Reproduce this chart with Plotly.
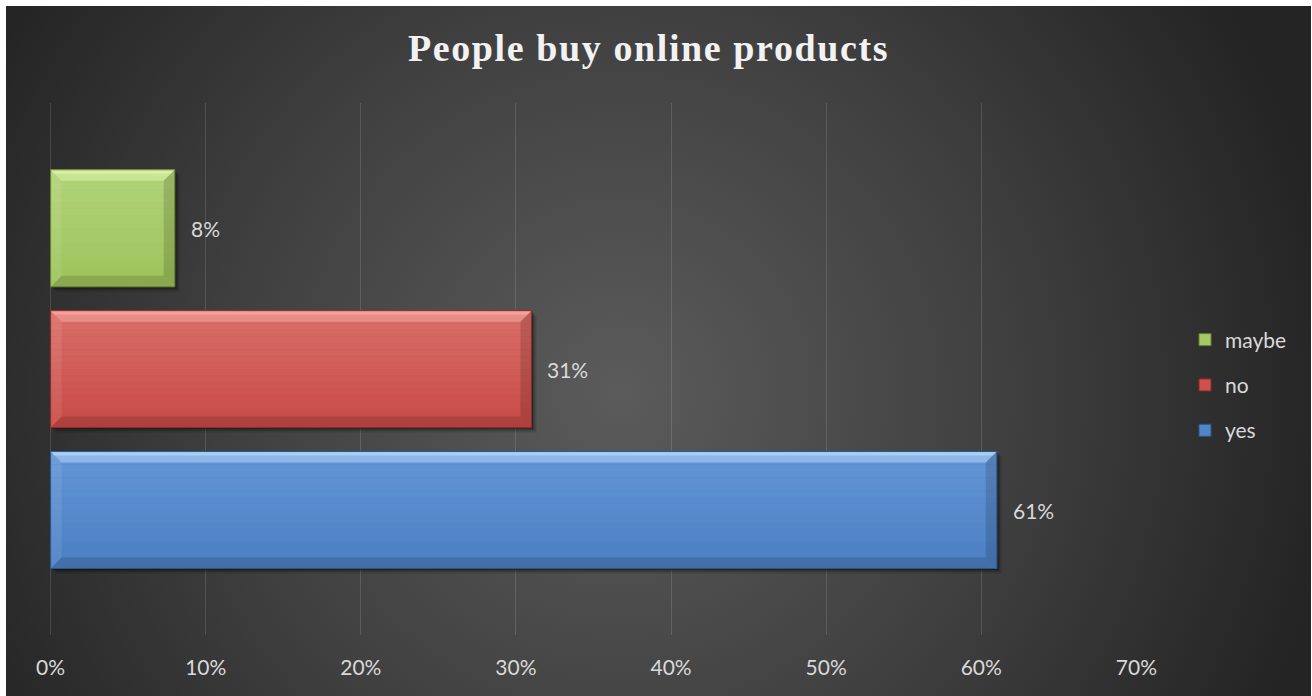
import base64
import plotly.graph_objects as go

# ---- data -------------------------------------------------------------
categories = ["yes", "no", "maybe"]
values = [61, 31, 8]
tick_values = [0, 10, 20, 30, 40, 50, 60, 70]
tick_labels = ["0%", "10%", "20%", "30%", "40%", "50%", "60%", "70%"]
title_text = "People buy online products"

# ---- styling ----------------------------------------------------------
W, H = 1312, 696
M_L, M_R, M_T, M_B = 50, 175, 103, 61
X_RANGE = [-0.04, 70.04]
Y_RANGE = [-0.887, 2.889]
BAR_WIDTH = 0.83

styles = {
    "yes":   dict(body_top="#6496d6", body_bot="#4a7fc2", hi="#b4d6fa",
                  edge="#2d5488", legend="#4f86c8"),
    "no":    dict(body_top="#d96f6a", body_bot="#c84a46", hi="#f6aaa4",
                  edge="#8a2b28", legend="#cf514d"),
    "maybe": dict(body_top="#b2d47a", body_bot="#9dc25a", hi="#ddf4ab",
                  edge="#62802f", legend="#a5c965"),
}

TEXT_GREY = "#d9d9d9"
GRID = "rgba(255,255,255,0.13)"
LABEL_FONT = dict(family="Lato, Carlito, Open Sans, sans-serif", size=21, color=TEXT_GREY)

plot_w = W - M_L - M_R
plot_h = H - M_T - M_B
px_x = plot_w / (X_RANGE[1] - X_RANGE[0])   # pixels per x unit
px_y = plot_h / (Y_RANGE[1] - Y_RANGE[0])   # pixels per y unit


def hex_to_rgb(h):
    h = h.lstrip("#")
    return tuple(int(h[k:k + 2], 16) for k in (0, 2, 4))


def mix(c1, c2, t):
    a, b = hex_to_rgb(c1), hex_to_rgb(c2)
    return "rgb(%d,%d,%d)" % tuple(round(a[k] + (b[k] - a[k]) * t) for k in range(3))


# radial backdrop, lighter in the middle
bg_w, bg_h = W - 7, H - 6
svg = f"""<svg xmlns='http://www.w3.org/2000/svg' width='{bg_w}' height='{bg_h}'>
<defs><radialGradient id='g' gradientUnits='userSpaceOnUse' cx='{bg_w*0.47:.0f}' cy='{bg_h*0.56:.0f}' r='720'>
<stop offset='0' stop-color='#5b5b5b'/><stop offset='0.55' stop-color='#3f3f3f'/><stop offset='1' stop-color='#242424'/>
</radialGradient></defs><rect width='100%' height='100%' fill='url(#g)'/></svg>"""
bg_src = "data:image/svg+xml;base64," + base64.b64encode(svg.encode()).decode()

fig = go.Figure()

shapes = []
annotations = []
bx = 11 / px_x
by = 11 / px_y
n_cat = len(categories)
for i, (cat, val) in enumerate(zip(categories, values)):
    st = styles[cat]
    fig.add_trace(go.Bar(
        x=[val], y=[i], orientation="h", name=cat, width=BAR_WIDTH,
        legendgroup=cat, legendrank=n_cat - i,
        marker=dict(color=st["legend"], line=dict(color=st["edge"], width=1)),
        hoverinfo="x+name",
    ))
    h = BAR_WIDTH / 2
    y0, y1 = i - h, i + h
    # soft drop shadow
    for off, op in ((5, 0.12), (3, 0.22), (1.5, 0.3)):
        shapes.append(dict(type="rect", xref="x", yref="y", layer="between",
                           x0=off / px_x, x1=val + off / px_x,
                           y0=y0 - off / px_y, y1=y1 - off / px_y,
                           fillcolor="black", opacity=op, line_width=0))
    # body with a vertical gradient
    n = 18
    for k in range(n):
        t = (k + 0.5) / n
        shapes.append(dict(type="rect", xref="x", yref="y", layer="above",
                           x0=0, x1=val,
                           y0=y1 - (y1 - y0) * k / n, y1=y1 - (y1 - y0) * (k + 1) / n,
                           fillcolor=mix(st["body_top"], st["body_bot"], t), line_width=0))
    # bevel faces
    top = f"M 0,{y1} L {val},{y1} L {val-bx},{y1-by} L {bx},{y1-by} Z"
    shapes.append(dict(type="path", xref="x", yref="y", path=top,
                       fillcolor=st["hi"], opacity=0.55, line_width=0))
    top_thin = f"M 0,{y1} L {val},{y1} L {val-bx*0.35},{y1-by*0.35} L {bx*0.35},{y1-by*0.35} Z"
    shapes.append(dict(type="path", xref="x", yref="y", path=top_thin,
                       fillcolor=st["hi"], opacity=0.7, line_width=0))
    left = f"M 0,{y0} L 0,{y1} L {bx},{y1-by} L {bx},{y0+by} Z"
    shapes.append(dict(type="path", xref="x", yref="y", path=left,
                       fillcolor="white", opacity=0.08, line_width=0))
    right = f"M {val},{y0} L {val},{y1} L {val-bx},{y1-by} L {val-bx},{y0+by} Z"
    shapes.append(dict(type="path", xref="x", yref="y", path=right,
                       fillcolor="black", opacity=0.14, line_width=0))
    bottom = f"M 0,{y0} L {val},{y0} L {val-bx},{y0+by} L {bx},{y0+by} Z"
    shapes.append(dict(type="path", xref="x", yref="y", path=bottom,
                       fillcolor="black", opacity=0.13, line_width=0))
    shapes.append(dict(type="rect", xref="x", yref="y", x0=0, x1=val, y0=y0, y1=y1,
                       line=dict(color=st["edge"], width=1), fillcolor="rgba(0,0,0,0)"))
    annotations.append(dict(x=val, y=i, xref="x", yref="y", text=f"{val}%",
                            showarrow=False, xanchor="left", yanchor="middle",
                            xshift=14, font=LABEL_FONT))

fig.update_layout(
    width=W, height=H,
    margin=dict(l=M_L, r=M_R, t=M_T, b=M_B, pad=0),
    paper_bgcolor="white",
    plot_bgcolor="rgba(0,0,0,0)",
    barmode="overlay",
    title=dict(
        text=f"<span style='letter-spacing:1.6px'>{title_text}</span>",
        x=648.5 / W, xanchor="center", xref="container",
        y=1 - 47.5 / H, yanchor="middle", yref="container",
        font=dict(family="Liberation Serif, Times New Roman, serif", size=38,
                  color="#f2f2f2", weight="bold"),
    ),
    xaxis=dict(
        range=X_RANGE, tickvals=tick_values, ticktext=tick_labels,
        showgrid=True, gridcolor=GRID, gridwidth=1,
        zeroline=True, zerolinecolor=GRID, zerolinewidth=1,
        showline=False, ticks="", ticklabelstandoff=18,
        tickfont=LABEL_FONT, fixedrange=True,
    ),
    yaxis=dict(
        range=Y_RANGE, showgrid=False, zeroline=False, showline=False,
        showticklabels=False, ticks="", fixedrange=True,
    ),
    legend=dict(
        x=(1185 - M_L) / plot_w, xanchor="left",
        y=(H - M_B - 385) / plot_h, yanchor="middle",
        traceorder="grouped", tracegroupgap=15,
        font=LABEL_FONT, bgcolor="rgba(0,0,0,0)",
    ),
    images=[dict(
        source=bg_src, xref="paper", yref="paper",
        x=(6 - M_L) / plot_w, y=1 + (M_T - 6) / plot_h,
        sizex=bg_w / plot_w, sizey=bg_h / plot_h,
        xanchor="left", yanchor="top", sizing="stretch", layer="below",
    )],
    shapes=shapes,
    annotations=annotations,
    showlegend=True,
)

fig.write_html("out.html")
